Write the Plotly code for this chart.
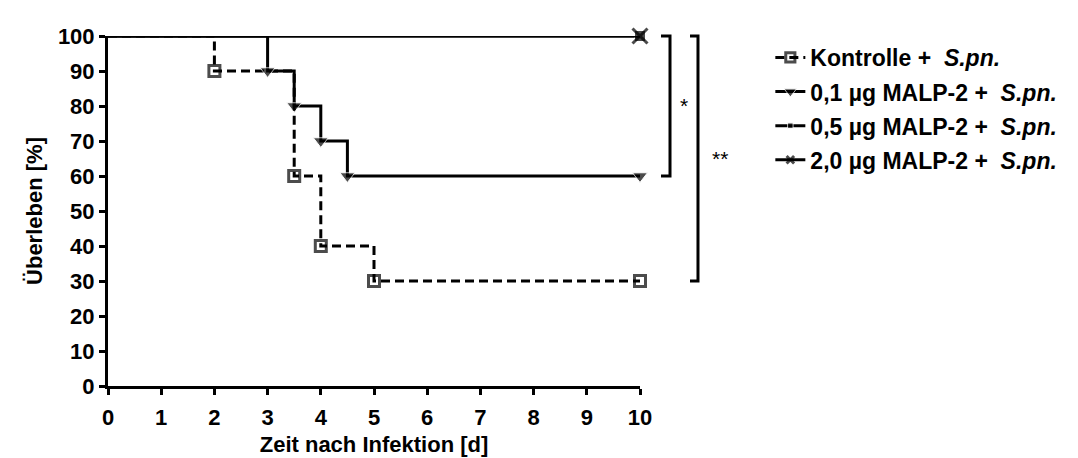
import plotly.graph_objects as go

# Data (Kaplan-Meier step points)
ctrl_t = [0, 2, 3.5, 4, 5, 10]
ctrl_s = [100, 90, 60, 40, 30, 30]
d01_t = [0, 3, 3.5, 4, 4.5, 10]
d01_s = [100, 90, 80, 70, 60, 60]
d05_t = [0, 10]
d05_s = [100, 100]
d20_t = [0, 10]
d20_s = [100, 100]

names = ["Kontrolle +  <i>S.pn.</i>",
         "0,1 µg MALP-2 +  <i>S.pn.</i>",
         "0,5 µg MALP-2 +  <i>S.pn.</i>",
         "2,0 µg MALP-2 +  <i>S.pn.</i>"]

x_ticks = list(range(0, 11))
y_ticks = list(range(0, 101, 10))

FONT = "Liberation Sans, Arial, sans-serif"
FS = 22

fig = go.Figure()

fig.add_trace(go.Scatter(
    x=ctrl_t, y=ctrl_s, name=names[0], legend="legend", mode="lines+markers", line_shape="hv",
    line=dict(color="black", width=3, dash="9px,5px"),
    marker=dict(symbol="square-open", size=[0, 11, 11, 11, 11, 11], color="black",
                line=dict(width=3, color="black")),
    cliponaxis=False))
fig.add_trace(go.Scatter(
    x=d01_t, y=d01_s, name=names[1], legend="legend2", mode="lines+markers", line_shape="hv",
    line=dict(color="black", width=3),
    marker=dict(symbol="triangle-down", size=[0, 13, 13, 13, 13, 13], color="black"),
    cliponaxis=False))
fig.add_trace(go.Scatter(
    x=d05_t, y=d05_s, name=names[2], legend="legend3", mode="lines+markers", line_shape="hv",
    line=dict(color="black", width=3),
    marker=dict(symbol="square", size=[0, 11], color="black"),
    cliponaxis=False))
fig.add_trace(go.Scatter(
    x=d20_t, y=d20_s, name=names[3], legend="legend4", mode="lines+markers", line_shape="hv",
    line=dict(color="black", width=3),
    marker=dict(symbol="x-thin", size=[0, 15], color="black",
                line=dict(width=3, color="black")),
    cliponaxis=False))

# significance brackets (paper coordinates, outside the plot area)
def bracket(x_in, x_out, y0, y1, label, lx):
    py0 = y0 / 100.0
    py1 = y1 / 100.0
    fig.add_shape(type="path", xref="paper", yref="paper",
                  path=f"M {x_in} {py0} L {x_out} {py0} L {x_out} {py1} L {x_in} {py1}",
                  line=dict(color="black", width=3))
    fig.add_annotation(x=lx, y=(py0 + py1) / 2, xref="paper", yref="paper", text=label,
                       showarrow=False, xanchor="center", yanchor="middle",
                       font=dict(family=FONT, size=21, color="black"))

bracket(1.0395, 1.0564, 100, 60, "*", 1.083)
bracket(1.094, 1.109, 100, 30, "**", 1.150)

axis_common = dict(showline=True, linewidth=3, linecolor="black", ticks="outside",
                   ticklen=6, tickwidth=3, tickcolor="black", showgrid=False,
                   zeroline=False,
                   tickfont=dict(family=FONT, size=FS, color="black", weight="bold"))

fig.update_xaxes(range=[0, 10], tickvals=x_ticks, ticklabelstandoff=4, **axis_common,
                 title=dict(text="Zeit nach Infektion [d]", standoff=8,
                            font=dict(family=FONT, size=FS, color="black", weight="bold")))
fig.update_yaxes(range=[0, 100], tickvals=y_ticks, **axis_common,
                 title=dict(text="Überleben [%]", standoff=10,
                            font=dict(family=FONT, size=FS, color="black", weight="bold")))

leg_common = dict(x=1.245, xanchor="left", yanchor="middle",
                  font=dict(family=FONT, size=23, color="black", weight="bold"),
                  bgcolor="rgba(0,0,0,0)", borderwidth=0)
row_y = [50, 85, 120, 155]  # legend row centres (pixels from top)
def ypaper(py):
    return (387 - py) / 359.0

fig.update_layout(
    width=1078, height=458,
    margin=dict(l=100, r=446, t=28, b=71),
    plot_bgcolor="white", paper_bgcolor="white",
    showlegend=True,
    legend=dict(y=ypaper(row_y[0]), **leg_common),
    legend2=dict(y=ypaper(row_y[1]), **leg_common),
    legend3=dict(y=ypaper(row_y[2]), **leg_common),
    legend4=dict(y=ypaper(row_y[3]), **leg_common),
)

fig.write_html("out.html")
